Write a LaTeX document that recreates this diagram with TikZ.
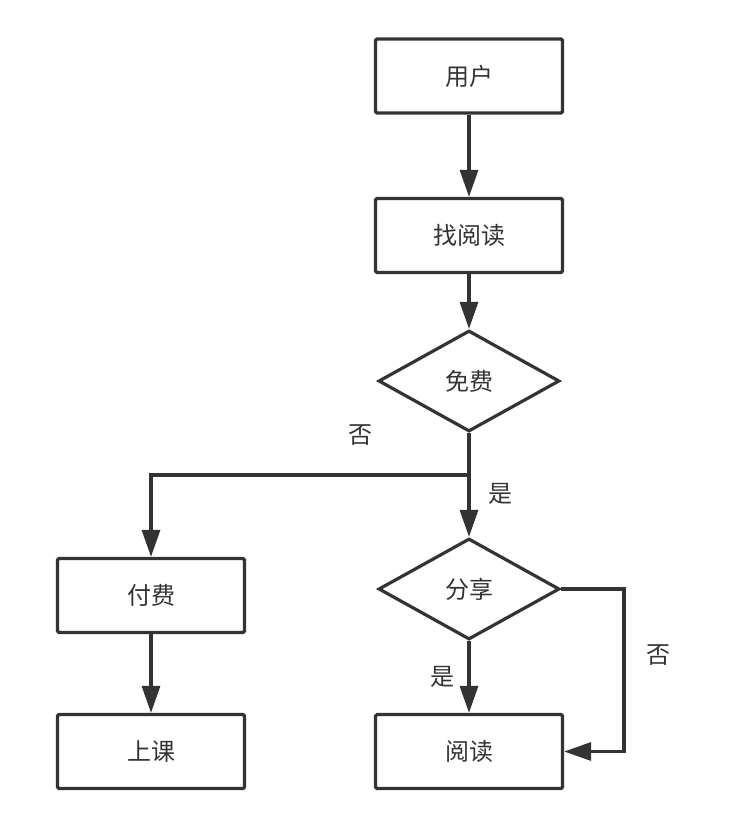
\documentclass[tikz,border=0pt]{standalone}
\usepackage{fontspec}
\setmainfont{Noto Sans CJK SC}
\usetikzlibrary{shapes.geometric}
\usetikzlibrary{positioning}
\usetikzlibrary{arrows.meta}
\definecolor{ink}{HTML}{333333}

\begin{document}
\begin{tikzpicture}[x=1pt,y=-1pt,>={Triangle[length=27pt,width=18pt]},
	line width=3.2pt,draw=ink,text=ink,font=\fontsize{24pt}{26pt}\selectfont,
	box node/.style={rectangle,draw=ink,rounded corners=1.5pt,minimum width=187pt,minimum height=74pt},
	choice node/.style={diamond,draw=ink,aspect=1.8,inner sep=0pt,minimum width=181pt,minimum height=101pt},
	note/.style={text=ink}]
	\useasboundingbox (0,0) rectangle (734,830);
	
	\node[box node] (user) at (469,76) {用户};
	\node[box node] (find) at (469,235.5) {找阅读};
	\node[choice node] (free) at (469,381) {免费};
	\node[choice node] (share) at (469,589) {分享};
	\node[box node] (pay) at (151,595.5) {付费};
	\node[box node] (class) at (151,751.5) {上课};
	\node[box node] (read) at (469,751.5) {阅读};
	\coordinate (split) at (469,475);
	\coordinate (turn) at (624,589);
	
	\path[draw=ink]
	(user) edge [->] (find)
	(find) edge [->] (free)
	(free.south) edge (split)
	(split) edge [->] (share)
	(pay) edge [->] (class)
	(share) edge [->] node [note,left=10pt] {是} (read);
	\draw[ink,->] (split) -| (pay);
	\draw[ink,->] (share.east) -- (turn) |- (read.east);
	
	\node[note] (no1) at (360,435) {否};
	\node[note] (yes1) at (500,494) {是};
	\node[note] (no2) at (658,655) {否};
\end{tikzpicture}
\end{document}
